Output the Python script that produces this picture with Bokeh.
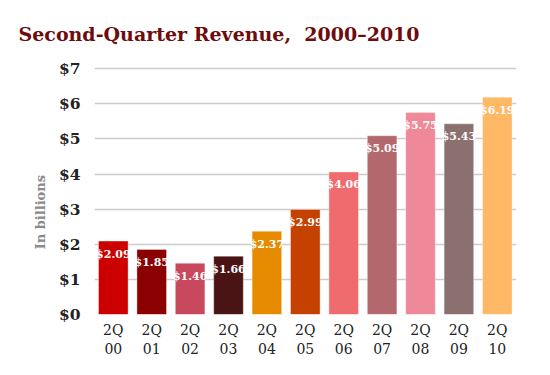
from bokeh.plotting import figure
from bokeh.models import ColumnDataSource, Range1d, FixedTicker
from bokeh.core.properties import value
from bokeh.embed import file_html
from bokeh.resources import INLINE

quarters = ["2Q\n00", "2Q\n01", "2Q\n02", "2Q\n03", "2Q\n04", "2Q\n05",
            "2Q\n06", "2Q\n07", "2Q\n08", "2Q\n09", "2Q\n10"]
revenue = [2.09, 1.85, 1.46, 1.66, 2.37, 2.99, 4.06, 5.09, 5.75, 5.43, 6.19]
labels = ["$2.09", "$1.85", "$1.46", "$1.66", "$2.37", "$2.99",
          "$4.06", "$5.09", "$5.75", "$5.43", "$6.19"]
colors = ["#CC0000", "#8B0000", "#C8485E", "#4A1414", "#E68A00", "#C44100",
          "#F06B6E", "#B2686D", "#EF8899", "#8B7070", "#FFB966"]
y_ticks = [0, 1, 2, 3, 4, 5, 6, 7]
y_tick_labels = ["$0", "$1", "$2", "$3", "$4", "$5", "$6", "$7"]

xs = list(range(len(quarters)))
src = ColumnDataSource(dict(x=xs, rev=revenue, lab=labels, col=colors))

FONT = "DejaVu Serif"

p = figure(width=534, height=359, output_backend="svg", toolbar_location=None,
           x_range=Range1d(-0.49, 10.5), y_range=Range1d(0, 7.12),
           min_border_left=94, min_border_right=18, min_border_bottom=45,
           min_border_top=64,
           title="Second-Quarter Revenue,\u00a0 2000\u20132010")
p.outline_line_color = None
p.background_fill_color = "white"
p.border_fill_color = "white"

p.title.text_font = FONT
p.title.text_font_size = "19px"
p.title.text_color = "#6E0B0B"
p.title.text_font_style = "bold"
p.title.align = "left"
p.title.offset = -76
p.title.standoff = 39

p.vbar(x="x", top="rev", width=0.77, bottom=0, source=src,
       fill_color="col", line_color="white", line_alpha=0.35, line_width=1)

p.text(x="x", y="rev", text="lab", source=src, text_align="center",
       text_baseline="middle", y_offset=13, text_color="white",
       text_font=value(FONT), text_font_size="11px", text_font_style="bold")

# grid
p.xgrid.grid_line_color = None
p.ygrid.grid_line_color = "#CCCCCC"
p.ygrid.grid_line_width = 1.5
p.ygrid.ticker = FixedTicker(ticks=y_ticks)

# y axis
p.yaxis.ticker = FixedTicker(ticks=y_ticks)
p.yaxis.major_label_overrides = {t: l for t, l in zip(y_ticks, y_tick_labels)}
p.yaxis.axis_line_color = None
p.yaxis.major_tick_line_color = None
p.yaxis.minor_tick_line_color = None
p.yaxis.major_label_text_font = FONT
p.yaxis.major_label_text_font_size = "15.5px"
p.yaxis.major_label_text_font_style = "bold"
p.yaxis.major_label_text_color = "#222222"
p.yaxis.major_label_standoff = 8
p.yaxis.axis_label = "In billions" + "\u00a0" * 10
p.yaxis.axis_label_text_font = FONT
p.yaxis.axis_label_text_font_size = "13px"
p.yaxis.axis_label_text_font_style = "bold"
p.yaxis.axis_label_text_color = "#8A8A8A"
p.yaxis.axis_label_standoff = 8

# x axis
p.xaxis.ticker = FixedTicker(ticks=xs)
p.xaxis.major_label_overrides = {x: q for x, q in zip(xs, quarters)}
p.xaxis.axis_line_color = None
p.xaxis.major_tick_line_color = None
p.xaxis.minor_tick_line_color = None
p.xaxis.major_label_text_font = FONT
p.xaxis.major_label_text_font_size = "14px"
p.xaxis.major_label_text_color = "#222222"
p.xaxis.major_label_standoff = 1

open("out.html", "w").write(file_html(p, INLINE))
